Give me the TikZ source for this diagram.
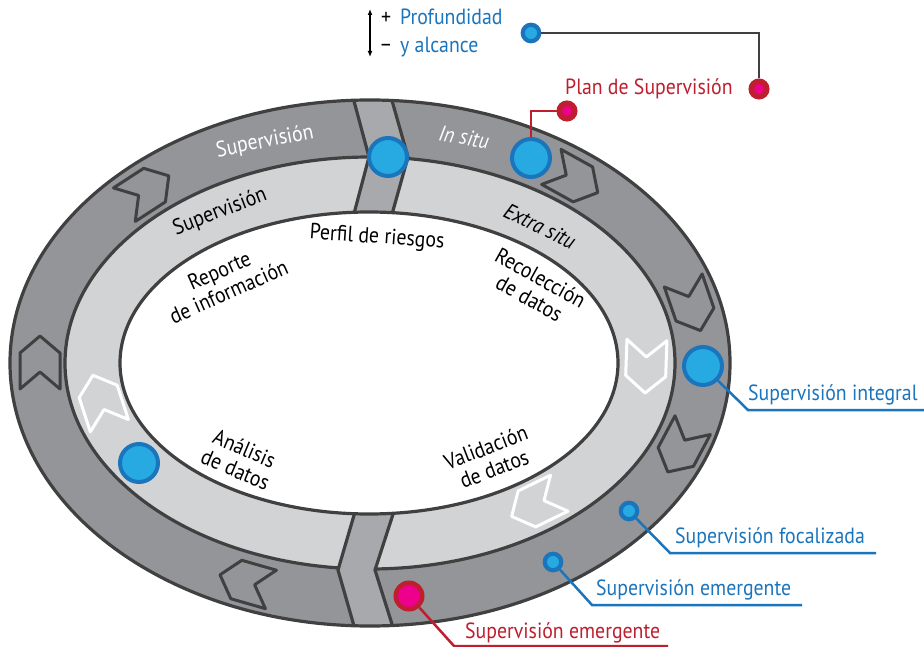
\documentclass[tikz,border=0pt]{standalone}
\usepackage{fontspec}
\setmainfont[FakeStretch=0.9]{PT Sans}
\usetikzlibrary{arrows.meta,positioning}

\definecolor{ringdark}{RGB}{147,149,152}
\definecolor{ringlight}{RGB}{209,211,212}
\definecolor{bandgray}{RGB}{167,169,172}
\definecolor{rimline}{RGB}{64,64,65}
\definecolor{dotblue}{RGB}{39,170,225}
\definecolor{lineblue}{RGB}{27,117,188}
\definecolor{dotpink}{RGB}{236,0,140}
\definecolor{linered}{RGB}{190,30,45}

\def\labelsize{\fontsize{22}{23}\selectfont}

\begin{document}
\begin{tikzpicture}[x=1pt,y=-1pt]
        \tikzstyle{rim}=[draw=rimline,line width=3.2pt]
        \tikzstyle{dark chevron}=[draw=rimline,line width=3pt,line join=round,fill=ringdark]
        \tikzstyle{light chevron}=[draw=white,line width=3pt,line join=round,fill=ringlight]
        \tikzstyle{big dot}=[circle,fill=dotblue,draw=lineblue,line width=4pt,minimum size=38pt,inner sep=0pt]
        \tikzstyle{small dot}=[circle,fill=dotblue,draw=lineblue,line width=4.2pt,minimum size=16.5pt,inner sep=0pt]
        \tikzstyle{pink dot}=[circle,fill=dotpink,draw=linered,line width=5.5pt,minimum size=15.5pt,inner sep=0pt]
        \tikzstyle{big pink dot}=[pink dot,line width=4.5pt,minimum size=26.5pt]
        \tikzstyle{ring text}=[font=\labelsize,inner sep=0pt]
        \tikzstyle{call text}=[font=\labelsize,inner sep=0pt,anchor=base west]
        \tikzstyle{blue link}=[draw=lineblue,line width=2.5pt]
        \tikzstyle{red link}=[draw=linered,line width=2.5pt]
        \tikzstyle{gray link}=[draw=rimline,line width=2.5pt]
        \useasboundingbox[fill=white] (0,0) rectangle (924,647);
        % rings
        \fill[ringdark] (370,363) ellipse [x radius=360pt,y radius=263pt];
        \draw[rim,fill=ringlight] (370,363) ellipse [x radius=305pt,y radius=206pt];
        \begin{scope}
            \clip (370,363) ellipse [x radius=360pt,y radius=263pt];
            \fill[bandgray] (351,90) -- (369,157) -- (351,225) -- (389,225) -- (408,157) -- (389,90) -- cycle;
            \draw[rim] (351,90) -- (369,157) -- (351,225) (389,90) -- (408,157) -- (389,225);
            \fill[bandgray] (357,505) -- (338,570) -- (358,640) -- (397,640) -- (375,570) -- (396,505) -- cycle;
            \draw[rim] (357,505) -- (338,570) -- (358,640) (396,505) -- (375,570) -- (397,640);
        \end{scope}
        \draw[rim,fill=white] (369,363) ellipse [x radius=249pt,y radius=151pt];
        \draw[rim] (370,363) ellipse [x radius=360pt,y radius=263pt];
        % chevrons
        \foreach \px/\py/\ang in {147/190/33, 575/180/-29, 692/306/-71, 680/449/-118, 245/582/164, 40/362/90}
            \draw[dark chevron,shift={(\px,\py)},rotate=\ang] (-27,20) -- (-10,0) -- (-27,-20) -- (9,-20) -- (26,0) -- (9,20) -- cycle;
        \foreach \px/\py/\ang in {101/400/108, 646/367/-92, 535/505/-154}
            \draw[light chevron,shift={(\px,\py)},rotate=\ang] (-27,20) -- (-10,0) -- (-27,-20) -- (9,-20) -- (26,0) -- (9,20) -- cycle;
        % ring labels
        \node[ring text,text=white,rotate=11] (sup-outer) at (265,142) {Supervisión};
        \node[ring text,text=white,rotate=-10] (insitu-label) at (464,137) {\itshape In situ};
        \node[ring text,rotate=21] (sup-inner) at (220,212) {Supervisión};
        \node[ring text,rotate=-26] (extra-label) at (540,226) {\itshape Extra situ};
        \node[ring text,rotate=-4] (risk-label) at (377,238) {Perfil de riesgos};
        \node[ring text,align=center,rotate=24] (report-label) at (224,281) {Reporte\\de información};
        \node[ring text,align=center,rotate=-29] (collect-label) at (535,288) {Recolección\\de datos};
        \node[ring text,align=center,rotate=21] (valid-label) at (490,458) {Validación\\de datos};
        \node[ring text,align=center,rotate=-23] (analysis-label) at (240,459) {Análisis\\de datos};
        % dots
        \node[big dot] (hub-top) at (388,157) {};
        \node[big dot] (insitu) at (531,158) {};
        \node[big dot] (integral) at (703,366) {};
        \node[big dot] (analysis) at (139,463) {};
        \node[small dot] (focal) at (629,511) {};
        \node[small dot] (emerg) at (553,562) {};
        \node[small dot] (depth) at (531,33) {};
        \node[big pink dot] (emerg-red) at (409,596) {};
        \node[pink dot] (plan-near) at (567,111) {};
        \node[pink dot] (plan-far) at (759,89) {};
        % callouts
        \coordinate (depth-corner) at (759,33);
        \coordinate (plan-corner) at (531,111);
        \coordinate (integral-knee) at (748,410);
        \coordinate (integral-end) at (924,410);
        \coordinate (focal-knee) at (670,553);
        \coordinate (focal-end) at (876,553);
        \coordinate (emerg-knee) at (592,605);
        \coordinate (emerg-end) at (802,605);
        \coordinate (red-knee) at (454,646);
        \coordinate (red-end) at (668,646);
        \draw[gray link] (depth) -- (depth-corner) -- (plan-far);
        \draw[red link] (insitu) -- (plan-corner) -- (plan-near);
        \draw[blue link] (integral) -- (integral-knee) -- (integral-end);
        \draw[blue link] (focal) -- (focal-knee) -- (focal-end);
        \draw[blue link] (emerg) -- (emerg-knee) -- (emerg-end);
        \draw[red link] (emerg-red) -- (red-knee) -- (red-end);
        \node[call text,text=lineblue] (integral-label) at ([yshift=9.5pt]integral-knee) {Supervisión integral};
        \node[call text,text=lineblue] (focal-label) at ([xshift=5pt,yshift=9.5pt]focal-knee) {Supervisión focalizada};
        \node[call text,text=lineblue] (emerg-label) at ([xshift=4pt,yshift=9.5pt]emerg-knee) {Supervisión emergente};
        \node[call text,text=linered] (red-label) at ([xshift=11pt,yshift=8pt]red-knee) {Supervisión emergente};
        \node[call text,text=linered] (plan-label) at (565,95) {Plan de Supervisión};
        % depth scale
        \coordinate (scale-top) at (370,9);
        \coordinate (scale-bottom) at (370,57);
        \draw[{Latex[length=6pt,width=5pt]}-{Latex[length=6pt,width=5pt]},line width=1.5pt] (scale-top) -- (scale-bottom);
        \node[call text,anchor=base] (plus) at (386,25) {+};
        \node[call text,anchor=base] (minus) at (386,52) {–};
        \node[call text,text=lineblue] (depth-label) at (400,25) {Profundidad};
        \node[call text,text=lineblue] (reach-label) at (400,52.5) {y alcance};
\end{tikzpicture}
\end{document}
